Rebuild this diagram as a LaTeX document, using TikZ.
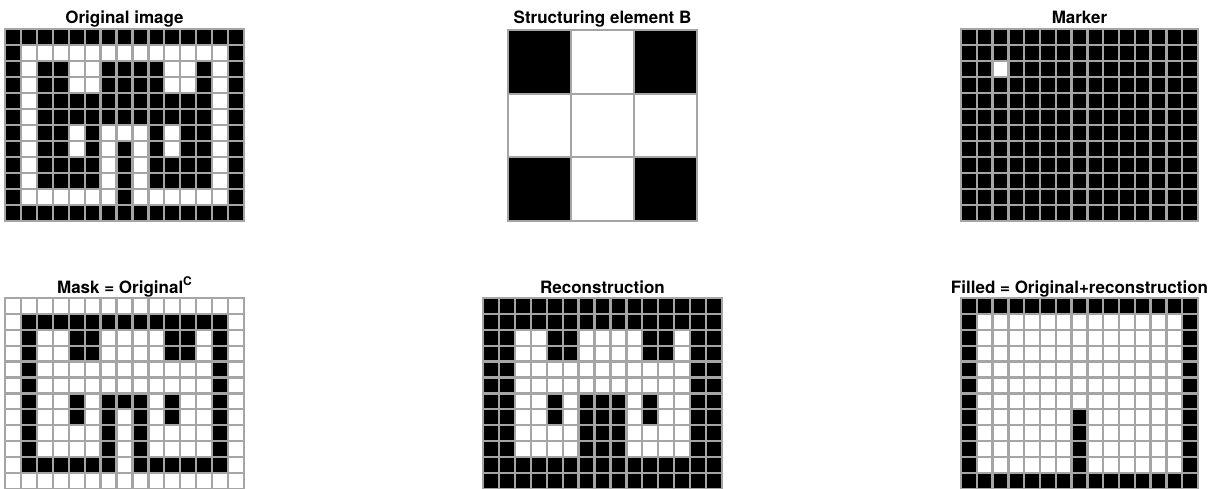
\documentclass[tikz,border=0pt]{standalone}
\usepackage{fontspec}
\setmainfont{TeX Gyre Heros}
\definecolor{gridgray}{RGB}{165,165,165}
\tikzset{
  gl/.style={draw=gridgray, line width=2.3pt, line cap=rect},
  ttl/.style={font=\fontsize{17}{20}\selectfont\bfseries, anchor=base, inner sep=0pt}
}
\newcommand{\pixgrid}[7]{%
  \foreach \rowlist [count=\rr from 0] in {#7} {
    \foreach \v [count=\cc from 0] in \rowlist {
      \ifnum\v=1 \fill[black] ({#1+\cc*#3},{#2+\rr*#4}) rectangle ++(#3,#4); \fi
    }
  }
  \foreach \i in {0,...,#5} \draw[gl] ({#1+\i*#3},#2) -- ++(0,{#6*#4});
  \foreach \j in {0,...,#6} \draw[gl] (#1,{#2+\j*#4}) -- ++({#5*#3},0);
}
\begin{document}
\begin{tikzpicture}[x=1pt,y=-1pt]
\useasboundingbox (0,0) rectangle (1220,489);
% Original image
\pixgrid{5}{29}{15.933}{16}{15}{12}{
{1,1,1,1,1,1,1,1,1,1,1,1,1,1,1},
{1,0,0,0,0,0,0,0,0,0,0,0,0,0,1},
{1,0,1,1,0,0,1,1,1,1,0,0,1,0,1},
{1,0,1,1,0,0,1,1,1,1,0,0,1,0,1},
{1,0,1,1,1,1,1,1,1,1,1,1,1,0,1},
{1,0,1,1,1,1,1,1,1,1,1,1,1,0,1},
{1,0,1,1,0,1,0,0,0,1,0,1,1,0,1},
{1,0,1,1,0,1,0,1,0,1,0,1,1,0,1},
{1,0,1,1,1,1,0,1,0,1,1,1,1,0,1},
{1,0,1,1,1,1,0,1,0,1,1,1,1,0,1},
{1,0,0,0,0,0,0,1,0,0,0,0,0,0,1},
{1,1,1,1,1,1,1,1,1,1,1,1,1,1,1}}
\node[ttl] (t1) at (124.5,24) {Original image};
% Structuring element
\pixgrid{508}{30}{63}{63.67}{3}{3}{
{1,0,1},
{0,0,0},
{1,0,1}}
\node[ttl] (t2) at (602.5,24) {Structuring element B};
% Marker
\pixgrid{961}{29}{15.8}{16}{15}{12}{
{1,1,1,1,1,1,1,1,1,1,1,1,1,1,1},
{1,1,1,1,1,1,1,1,1,1,1,1,1,1,1},
{1,1,0,1,1,1,1,1,1,1,1,1,1,1,1},
{1,1,1,1,1,1,1,1,1,1,1,1,1,1,1},
{1,1,1,1,1,1,1,1,1,1,1,1,1,1,1},
{1,1,1,1,1,1,1,1,1,1,1,1,1,1,1},
{1,1,1,1,1,1,1,1,1,1,1,1,1,1,1},
{1,1,1,1,1,1,1,1,1,1,1,1,1,1,1},
{1,1,1,1,1,1,1,1,1,1,1,1,1,1,1},
{1,1,1,1,1,1,1,1,1,1,1,1,1,1,1},
{1,1,1,1,1,1,1,1,1,1,1,1,1,1,1},
{1,1,1,1,1,1,1,1,1,1,1,1,1,1,1}}
\node[ttl] (t3) at (1079.5,24) {Marker};
% Mask
\pixgrid{5}{298}{15.933}{15.9}{15}{12}{
{0,0,0,0,0,0,0,0,0,0,0,0,0,0,0},
{0,1,1,1,1,1,1,1,1,1,1,1,1,1,0},
{0,1,0,0,1,1,0,0,0,0,1,1,0,1,0},
{0,1,0,0,1,1,0,0,0,0,1,1,0,1,0},
{0,1,0,0,0,0,0,0,0,0,0,0,0,1,0},
{0,1,0,0,0,0,0,0,0,0,0,0,0,1,0},
{0,1,0,0,1,0,1,1,1,0,1,0,0,1,0},
{0,1,0,0,1,0,1,0,1,0,1,0,0,1,0},
{0,1,0,0,0,0,1,0,1,0,0,0,0,1,0},
{0,1,0,0,0,0,1,0,1,0,0,0,0,1,0},
{0,1,1,1,1,1,1,0,1,1,1,1,1,1,0},
{0,0,0,0,0,0,0,0,0,0,0,0,0,0,0}}
\node[ttl] (t4) at (124.5,293) {Mask = Original\raisebox{7.5pt}{\fontsize{12}{14}\selectfont C}};
% Reconstruction
\pixgrid{483}{298}{15.933}{15.9}{15}{12}{
{1,1,1,1,1,1,1,1,1,1,1,1,1,1,1},
{1,1,1,1,1,1,1,1,1,1,1,1,1,1,1},
{1,1,0,0,1,1,0,0,0,0,1,1,0,1,1},
{1,1,0,0,1,1,0,0,0,0,1,1,0,1,1},
{1,1,0,0,0,0,0,0,0,0,0,0,0,1,1},
{1,1,0,0,0,0,0,0,0,0,0,0,0,1,1},
{1,1,0,0,1,0,1,1,1,0,1,0,0,1,1},
{1,1,0,0,1,0,1,1,1,0,1,0,0,1,1},
{1,1,0,0,0,0,1,1,1,0,0,0,0,1,1},
{1,1,0,0,0,0,1,1,1,0,0,0,0,1,1},
{1,1,1,1,1,1,1,1,1,1,1,1,1,1,1},
{1,1,1,1,1,1,1,1,1,1,1,1,1,1,1}}
\node[ttl] (t5) at (602.5,293) {Reconstruction};
% Filled
\pixgrid{961}{298}{15.8}{15.9}{15}{12}{
{1,1,1,1,1,1,1,1,1,1,1,1,1,1,1},
{1,0,0,0,0,0,0,0,0,0,0,0,0,0,1},
{1,0,0,0,0,0,0,0,0,0,0,0,0,0,1},
{1,0,0,0,0,0,0,0,0,0,0,0,0,0,1},
{1,0,0,0,0,0,0,0,0,0,0,0,0,0,1},
{1,0,0,0,0,0,0,0,0,0,0,0,0,0,1},
{1,0,0,0,0,0,0,0,0,0,0,0,0,0,1},
{1,0,0,0,0,0,0,1,0,0,0,0,0,0,1},
{1,0,0,0,0,0,0,1,0,0,0,0,0,0,1},
{1,0,0,0,0,0,0,1,0,0,0,0,0,0,1},
{1,0,0,0,0,0,0,1,0,0,0,0,0,0,1},
{1,1,1,1,1,1,1,1,1,1,1,1,1,1,1}}
\node[ttl] (t6) at (1079.5,293) {Filled = Original+reconstruction};
\end{tikzpicture}
\end{document}
